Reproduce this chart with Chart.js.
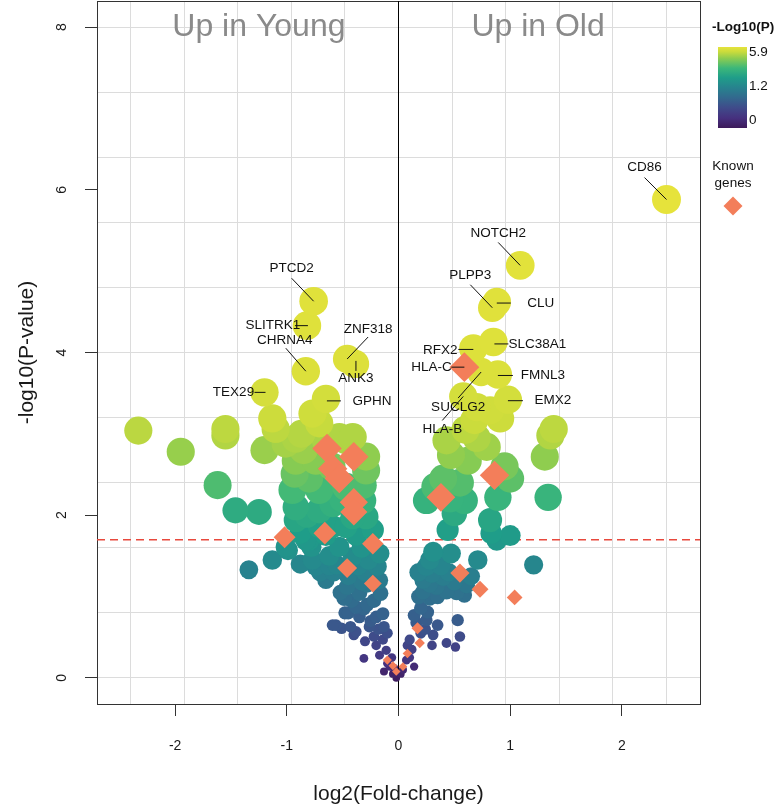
<!DOCTYPE html>
<html>
<head>
<meta charset="utf-8">
<script src="https://cdn.jsdelivr.net/npm/chart.js@4.4.0/dist/chart.umd.min.js"></script>
<style>
  html, body { margin: 0; padding: 0; background: #fff; }
  #wrap { width: 776px; height: 807px; }
</style>
</head>
<body>
<div id="wrap"><canvas id="volcano" width="776" height="807"></canvas></div>
<script>
// all tested genes: log2 fold-change and -log10(p)
const geneFC = [
  -0.76, -0.82, -0.83, -0.46, -0.39, -1.20, -0.65, -2.33, -1.95, -1.55, -1.55, -1.13, -1.10, -1.20,
  -0.77, -0.71, -0.92, -0.87, -0.65, -0.53, -0.41, -0.47, -1.01, -1.62, -1.46, -1.25, -0.92, -0.93,
  -0.95, -0.92, -0.92, -0.74, -0.71, -0.71, -0.59, -0.29, -0.29, -0.32, -0.32, -0.29, -0.23, -0.47,
  -0.71, -0.59, -0.47, -0.80, -0.53, -1.01, -0.41, -0.85, -0.60, -0.80, -0.50, -0.82, -0.65, -0.38,
  -0.88, -1.34, -1.13, -0.99, -0.77, -0.78, -0.55, -0.41, -0.17, -0.19, -0.17, -0.46, -0.49, -0.35,
  -0.16, -0.38, -0.28, -0.14, -0.35, -0.38, -0.56, -0.51, -0.43, -0.40, -0.26, -0.13, -0.22, -0.14,
  -0.11, -0.31, -0.17, -0.08, -0.13, -0.02, -0.05, -0.20, -0.25, -0.30, -0.62, -0.70, -0.65, -0.33,
  -0.28, -0.22, -0.10, -0.06, -0.10, -0.04, -0.62, -0.88, -0.83, -0.74, -0.48, -0.48, -0.59,
  -0.45, -0.36, -0.27, -0.52, -0.42, -0.31, -0.24, -0.58, -0.45, -0.20, -0.30, -0.18, -0.33,
  2.40, 1.09, 0.84, 0.88, 0.85, 0.67, 0.89, 0.74, 0.98, 0.58, 0.70, 0.82, 0.91, 0.68, 0.79, 0.43,
  0.47, 0.62, 1.39, 1.36, 1.31, 0.40, 1.00, 0.25, 0.59, 0.89, 1.34, 0.50, 0.44, 0.82, 0.83, 1.00,
  0.88, 0.55, 0.70, 0.60, 0.95, 0.46, 0.33, 1.21, 0.71, 0.31, 0.47, 0.25, 0.22, 0.22, 0.34, 0.43,
  0.61, 0.59, 0.40, 0.30, 0.18, 0.50, 0.28, 0.14, 0.20, 0.26, 0.25, 0.35, 0.53, 0.55, 0.43, 0.51,
  0.31, 0.10, 0.07, 0.14, 0.04, 0.12, 0.20, 0.16, 0.08, 0.02, 0.10,
  0.28, 0.38, 0.45, 0.35, 0.52, 0.28, 0.65, 0.18, 0.24, 0.30
];
const geneP = [
  4.63, 4.33, 3.77, 3.92, 3.86, 3.51, 3.43, 3.04, 2.78, 3.06, 2.98, 3.19, 3.06, 2.80,
  3.25, 3.13, 2.94, 3.00, 2.92, 2.96, 2.96, 2.92, 2.88, 2.37, 2.06, 2.04, 2.67, 2.51,
  2.31, 2.10, 1.94, 2.67, 2.31, 2.06, 2.14, 2.72, 2.55, 2.37, 2.18, 1.98, 1.82, 2.35,
  1.86, 1.86, 1.86, 1.69, 1.61, 1.61, 1.98, 2.80, 2.60, 2.45, 2.20, 2.00, 1.75, 1.75,
  1.78, 1.33, 1.45, 1.57, 1.45, 1.61, 1.39, 1.49, 1.53, 1.37, 1.20, 1.12, 0.98, 1.04,
  1.04, 0.87, 0.90, 0.79, 0.75, 0.57, 0.65, 0.61, 0.63, 0.53, 0.63, 0.63, 0.51, 0.47,
  0.34, 0.24, 0.28, 0.14, 0.08, 0.00, 0.05, 0.40, 0.70, 1.30, 1.50, 1.30, 1.20, 1.60,
  1.15, 0.95, 0.55, 0.25, 0.18, 0.12, 1.38, 1.40, 1.69, 1.37, 0.98, 0.80, 0.65,
  1.25, 1.38, 1.45, 1.05, 0.95, 0.85, 1.25, 1.30, 0.80, 0.75, 0.45, 0.60, 1.18,
  5.88, 5.07, 4.55, 4.62, 4.13, 4.05, 3.73, 3.76, 3.42, 3.46, 3.33, 3.29, 3.19, 3.17, 2.84, 2.92,
  2.74, 2.67, 3.06, 2.98, 2.72, 2.45, 2.45, 2.18, 2.18, 2.22, 2.22, 2.02, 1.82, 1.94, 1.78, 1.75,
  1.69, 2.40, 2.95, 3.05, 2.60, 2.20, 2.35, 1.39, 1.45, 1.55, 1.53, 1.37, 1.20, 1.06, 1.12, 1.06,
  1.14, 1.02, 1.24, 1.28, 1.30, 1.18, 0.98, 0.77, 0.86, 0.81, 0.71, 0.65, 0.71, 0.51, 0.43, 0.38,
  0.53, 0.47, 0.22, 0.14, 0.10, 0.35, 0.55, 0.68, 0.40, 0.05, 0.25,
  1.45, 1.38, 1.30, 1.00, 1.05, 1.15, 1.25, 1.00, 0.60, 0.40
];

// genes already known from earlier studies
const knownFC = [
  -0.64, -0.40, -0.59, -0.53, -0.40, -0.40, -1.02, -0.66, -0.23, -0.46, -0.23, -0.10, -0.02, -0.05,
  0.59, 0.38, 0.86, 0.55, 0.73, 1.04, 0.17, 0.19, 0.08, 0.04
];
const knownP = [
  2.82, 2.72, 2.57, 2.45, 2.16, 2.04, 1.73, 1.78, 1.65, 1.35, 1.16, 0.22, 0.08, 0.15,
  3.82, 2.22, 2.49, 1.29, 1.09, 0.99, 0.61, 0.43, 0.30, 0.14
];

// labelled genes
const labelNames = ['PTCD2', 'SLITRK1', 'CHRNA4', 'ZNF318', 'ANK3', 'TEX29', 'GPHN', 'CD86', 'NOTCH2',
  'PLPP3', 'CLU', 'SLC38A1', 'RFX2', 'HLA-C', 'FMNL3', 'EMX2', 'SUCLG2', 'HLA-B'];
const labelFC = [-0.76, -0.82, -0.83, -0.46, -0.39, -1.20, -0.65, 2.40, 1.09,
  0.84, 0.88, 0.85, 0.67, 0.59, 0.89, 0.98, 0.74, 0.58];
const labelP = [4.63, 4.33, 3.77, 3.92, 3.86, 3.51, 3.43, 5.88, 5.07,
  4.55, 4.62, 4.13, 4.05, 3.82, 3.73, 3.42, 3.76, 3.46];

const xTicks = [-2, -1, 0, 1, 2];
const yTicks = [0, 2, 4, 6, 8];
const sideTitles = ['Up in Young', 'Up in Old'];
const sideTitleFC = [-1.25, 1.25];
const colorbarLabels = ['5.9', '1.2', '0'];
const pThreshold = 1.7;

const X_MIN = -2.7, X_MAX = 2.7, Y_MIN = -0.32, Y_MAX = 8.32;
const GRID_X_STEP = 0.48, GRID_Y_STEP = 0.8;
const FONT = "'Liberation Sans', Arial, Helvetica, sans-serif";
const KNOWN_COLOUR = '#f37e5a';

// muted viridis
const palette = ['#3d1a5a', '#46307e', '#3f4b8a', '#326a8e', '#27838e', '#1f9d89', '#3cb77a', '#8ccc50', '#c9db3c', '#e6e33b'];
const paletteAt = [0, 0.12, 0.25, 0.38, 0.5, 0.62, 0.74, 0.86, 0.94, 1];
// -log10(p) -> position on the colour scale (rank-like)
const colourP = [0, 0.3, 0.7, 1.2, 1.7, 2.2, 2.7, 3.2, 3.8, 5.9];
const colourT = [0.02, 0.18, 0.32, 0.46, 0.6, 0.72, 0.86, 0.95, 0.98, 1];
// -log10(p) -> point radius (px)
const sizeP = [0, 0.4, 0.9, 1.35, 1.75, 2.05, 2.3, 6];
const sizeR = [3.8, 4.8, 7, 9.5, 10.5, 13, 14, 14.5];

function interp(xs, ys, v) {
  if (v <= xs[0]) return ys[0];
  for (let i = 1; i < xs.length; i++) {
    if (v <= xs[i]) {
      const f = (v - xs[i - 1]) / (xs[i] - xs[i - 1]);
      return ys[i - 1] + f * (ys[i] - ys[i - 1]);
    }
  }
  return ys[ys.length - 1];
}
function hexRgb(h) { return [1, 3, 5].map(i => parseInt(h.substr(i, 2), 16)); }
function paletteColour(t) {
  for (let i = 1; i < paletteAt.length; i++) {
    if (t <= paletteAt[i]) {
      const f = (t - paletteAt[i - 1]) / (paletteAt[i] - paletteAt[i - 1]);
      const a = hexRgb(palette[i - 1]), b = hexRgb(palette[i]);
      const c = a.map((v, k) => Math.round(v + f * (b[k] - v)));
      return `rgb(${c[0]},${c[1]},${c[2]})`;
    }
  }
  return palette[palette.length - 1];
}

// draw the more significant genes last so they sit on top
const order = geneP.map((p, i) => i).sort((a, b) => geneP[a] - geneP[b]);
const genePoints = order.map(i => ({ x: geneFC[i], y: geneP[i] }));
const geneColours = order.map(i => paletteColour(interp(colourP, colourT, geneP[i])));
const geneRadii = order.map(i => interp(sizeP, sizeR, geneP[i]));
const knownPoints = knownFC.map((fc, i) => ({ x: fc, y: knownP[i] }));
const knownRadii = knownP.map(p => interp(sizeP, sizeR, p) * 1.05);

// label text / leader placement, px relative to the gene
const labelStyle = {
  'PTCD2':   { t: [-22, -33], l: [-22, -23, 0, 0] },
  'SLITRK1': { t: [-34, 0],   l: [-12, 0, 1, 0] },
  'CHRNA4':  { t: [-21, -31], l: [-20, -23, 0, 0] },
  'ZNF318':  { t: [21, -30],  l: [21, -22, 0, 0] },
  'ANK3':    { t: [1, 14],    l: [1, 7, 1, -3] },
  'TEX29':   { t: [-31, 0],   l: [-10, 0, 1, 0] },
  'GPHN':    { t: [46, 2],    l: [1, 2, 15, 2] },
  'CD86':    { t: [-22, -32], l: [-22, -22, 0, 0] },
  'NOTCH2':  { t: [-22, -32], l: [-22, -23, 0, 0] },
  'PLPP3':   { t: [-22, -32], l: [-22, -23, 0, 0] },
  'CLU':     { t: [44, 1],    l: [0, 1, 14, 1] },
  'SLC38A1': { t: [44, 2],    l: [1, 2, 15, 2] },
  'RFX2':    { t: [-33, 2],   l: [-15, 1, 0, 1] },
  'HLA-C':   { t: [-33, 0],   l: [-13, 0, 0, 0] },
  'FMNL3':   { t: [45, 1],    l: [0, 1, 15, 1] },
  'EMX2':    { t: [45, 1],    l: [0, 1, 15, 1] },
  'SUCLG2':  { t: [-23, 35],  l: [-23, 26, 0, 0] },
  'HLA-B':   { t: [-21, 33],  l: [-21, 24, 0, 0] }
};

const gridXValues = [];
for (let k = -5; k <= 5; k++) gridXValues.push(k * GRID_X_STEP);
const gridYValues = [];
for (let k = 0; k <= 10; k++) gridYValues.push(k * GRID_Y_STEP);

const decor = {
  id: 'decor',
  beforeDraw(chart) {
    const ctx = chart.ctx;
    ctx.save();
    ctx.fillStyle = '#fff';
    ctx.fillRect(0, 0, chart.width, chart.height);
    ctx.restore();
  },
  afterDraw(chart) {
    const { ctx, chartArea, scales: { x, y } } = chart;
    ctx.save();

    // y tick labels, rotated like base R
    ctx.fillStyle = '#1a1a1a';
    ctx.font = `14px ${FONT}`;
    ctx.textAlign = 'center';
    ctx.textBaseline = 'middle';
    yTicks.forEach(v => {
      ctx.save();
      ctx.translate(chartArea.left - 35, y.getPixelForValue(v));
      ctx.rotate(-Math.PI / 2);
      ctx.fillText(String(v), 0, 0);
      ctx.restore();
    });

    // side headings
    ctx.fillStyle = '#8a8a8a';
    ctx.font = `32px ${FONT}`;
    ctx.textBaseline = 'alphabetic';
    sideTitles.forEach((t, i) => {
      ctx.fillText(t, x.getPixelForValue(sideTitleFC[i]), y.getPixelForValue(8) + 8.5);
    });

    // gene labels with leader lines
    ctx.strokeStyle = '#111';
    ctx.lineWidth = 1;
    ctx.fillStyle = '#111';
    ctx.font = `13.5px ${FONT}`;
    ctx.textBaseline = 'middle';
    labelNames.forEach((name, i) => {
      const px = x.getPixelForValue(labelFC[i]);
      const py = y.getPixelForValue(labelP[i]);
      const s = labelStyle[name];
      ctx.fillText(name, px + s.t[0], py + s.t[1]);
      ctx.beginPath();
      ctx.moveTo(px + s.l[0], py + s.l[1]);
      ctx.lineTo(px + s.l[2], py + s.l[3]);
      ctx.stroke();
    });

    // colour key
    ctx.textAlign = 'left';
    ctx.font = `bold 13.5px ${FONT}`;
    ctx.fillText('-Log10(P)', 712, 27);
    const barX = 718, barTop = 47, barW = 29, barH = 81;
    const grad = ctx.createLinearGradient(0, barTop + barH, 0, barTop);
    paletteAt.forEach((t, i) => grad.addColorStop(t, palette[i]));
    ctx.fillStyle = grad;
    ctx.fillRect(barX, barTop, barW, barH);
    ctx.fillStyle = '#111';
    ctx.font = `13.5px ${FONT}`;
    const labelYs = [52, 86, 120];
    colorbarLabels.forEach((t, i) => ctx.fillText(t, barX + barW + 2, labelYs[i]));

    // known genes key
    ctx.textAlign = 'center';
    ctx.fillText('Known', 733, 166);
    ctx.fillText('genes', 733, 183);
    ctx.fillStyle = KNOWN_COLOUR;
    ctx.beginPath();
    ctx.moveTo(733, 196.5);
    ctx.lineTo(742.5, 206);
    ctx.lineTo(733, 215.5);
    ctx.lineTo(723.5, 206);
    ctx.closePath();
    ctx.fill();

    ctx.restore();
  }
};

const axisFont = { family: FONT, size: 14 };

new Chart(document.getElementById('volcano').getContext('2d'), {
  type: 'scatter',
  data: {
    datasets: [
      {
        label: 'Known genes',
        data: knownPoints,
        pointStyle: 'rectRot',
        pointRadius: knownRadii,
        pointHoverRadius: knownRadii,
        backgroundColor: KNOWN_COLOUR,
        borderWidth: 0,
        order: 0
      },
      {
        label: 'Genes',
        data: genePoints,
        pointRadius: geneRadii,
        pointHoverRadius: geneRadii,
        backgroundColor: geneColours,
        borderWidth: 0,
        order: 1
      },
      {
        label: 'P threshold',
        data: [{ x: X_MIN, y: pThreshold }, { x: X_MAX, y: pThreshold }],
        showLine: true,
        borderColor: '#e8493d',
        borderWidth: 1.5,
        borderDash: [8, 5],
        pointRadius: 0,
        order: 2
      },
      {
        label: 'Zero',
        data: [{ x: 0, y: Y_MIN }, { x: 0, y: Y_MAX }],
        showLine: true,
        borderColor: '#000',
        borderWidth: 1,
        pointRadius: 0,
        order: 3
      }
    ]
  },
  options: {
    responsive: false,
    animation: false,
    events: [],
    layout: { autoPadding: false, padding: { top: 1, right: 76, bottom: 0, left: 0 } },
    plugins: { legend: { display: false }, tooltip: { enabled: false } },
    scales: {
      x: {
        type: 'linear', position: 'bottom', min: X_MIN, max: X_MAX,
        afterBuildTicks: s => { s.ticks = xTicks.map(v => ({ value: v })); },
        afterFit: s => { s.height = 103; },
        grid: { drawOnChartArea: false, tickLength: 12, tickColor: '#333', tickWidth: 1 },
        border: { display: true, color: '#333', width: 1 },
        ticks: { font: axisFont, color: '#1a1a1a', padding: 22, maxRotation: 0, autoSkip: false },
        title: { display: true, text: 'log2(Fold-change)', font: { family: FONT, size: 21 }, color: '#1a1a1a', padding: { top: 0, bottom: 0 } }
      },
      y: {
        type: 'linear', position: 'left', min: Y_MIN, max: Y_MAX,
        afterBuildTicks: s => { s.ticks = yTicks.map(v => ({ value: v })); },
        afterFit: s => { s.width = 97; },
        grid: { drawOnChartArea: false, tickLength: 12, tickColor: '#333', tickWidth: 1 },
        border: { display: true, color: '#333', width: 1 },
        ticks: { display: false },
        title: { display: true, text: '-log10(P-value)', font: { family: FONT, size: 21 }, color: '#1a1a1a', padding: { top: 15, bottom: 0 } }
      },
      gx: {
        type: 'linear', position: 'top', min: X_MIN, max: X_MAX,
        afterBuildTicks: s => { s.ticks = gridXValues.map(v => ({ value: v })); },
        afterFit: s => { s.height = 0; },
        grid: { color: '#dcdcdc', lineWidth: 1, drawTicks: false },
        border: { display: true, color: '#333', width: 1 },
        ticks: { display: false }
      },
      gy: {
        type: 'linear', position: 'right', min: Y_MIN, max: Y_MAX,
        afterBuildTicks: s => { s.ticks = gridYValues.map(v => ({ value: v })); },
        afterFit: s => { s.width = 0; },
        grid: { color: '#dcdcdc', lineWidth: 1, drawTicks: false },
        border: { display: true, color: '#333', width: 1 },
        ticks: { display: false }
      }
    }
  },
  plugins: [decor]
});
</script>
</body>
</html>
